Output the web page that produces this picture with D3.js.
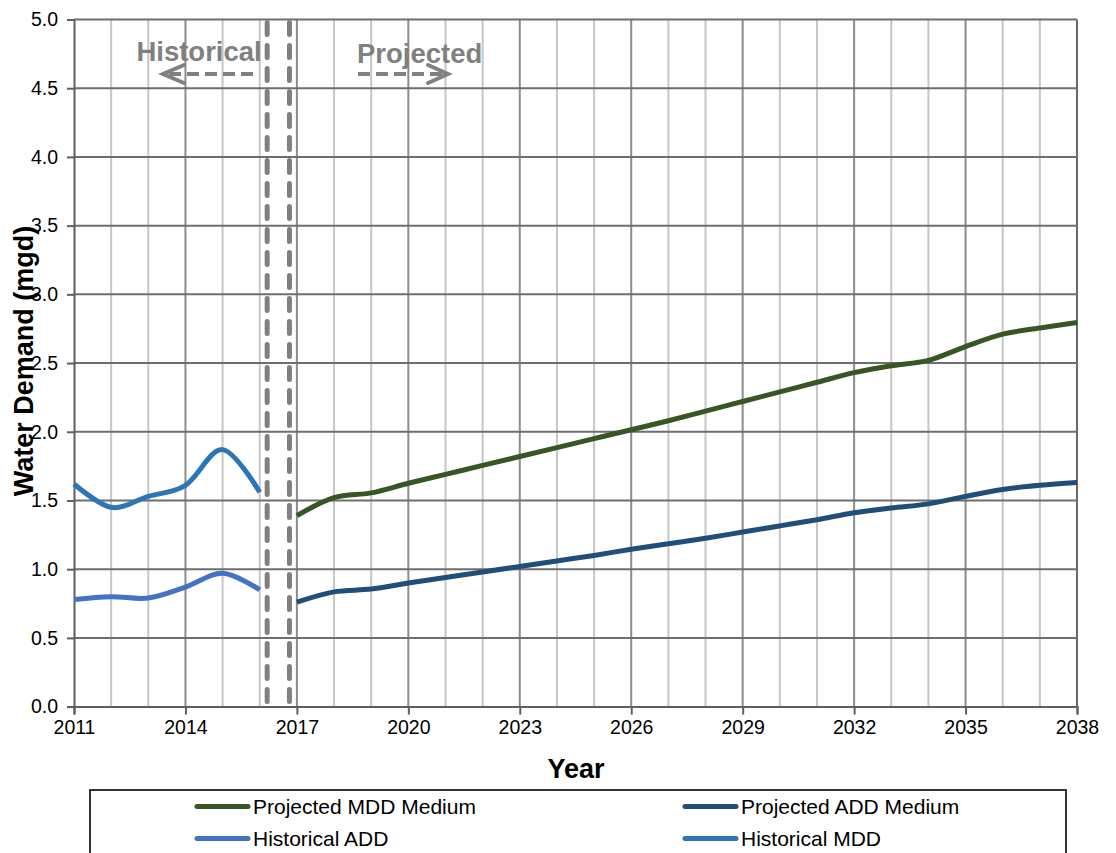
<!DOCTYPE html>
<html>
<head>
<meta charset="utf-8">
<script src="https://cdn.jsdelivr.net/npm/d3@7"></script>
<style>
  html, body { margin: 0; padding: 0; background: #fff; }
  svg { display: block; font-family: Arial, "Liberation Sans", sans-serif; }
</style>
</head>
<body>
<svg id="chart" width="1116" height="853"></svg>
<script>
// Water demand history and projection (mgd)
const histYears = [2011, 2012, 2013, 2014, 2015, 2016];
const histADD = [0.78, 0.80, 0.79, 0.87, 0.97, 0.85];
const histMDD = [1.62, 1.45, 1.53, 1.61, 1.87, 1.56];

const projYears = [2017, 2018, 2019, 2020, 2021, 2022, 2023, 2024, 2025, 2026, 2027,
                   2028, 2029, 2030, 2031, 2032, 2033, 2034, 2035, 2036, 2037, 2038];
const projMDD = [1.39, 1.52, 1.555, 1.625, 1.69, 1.755, 1.82, 1.885, 1.95, 2.015, 2.08,
                 2.15, 2.22, 2.29, 2.36, 2.43, 2.48, 2.52, 2.62, 2.71, 2.755, 2.795];
const projADD = [0.76, 0.835, 0.855, 0.90, 0.94, 0.98, 1.02, 1.06, 1.10, 1.145, 1.185,
                 1.225, 1.27, 1.315, 1.36, 1.41, 1.445, 1.475, 1.53, 1.58, 1.61, 1.63];

const xTicks = [2011, 2014, 2017, 2020, 2023, 2026, 2029, 2032, 2035, 2038];
const yTicks = [0, 0.5, 1, 1.5, 2, 2.5, 3, 3.5, 4, 4.5, 5];
const boundaryYears = [2016.2, 2016.8];   // dashed divider between history and projection

const seriesNames = ["Projected MDD Medium", "Projected ADD Medium", "Historical ADD", "Historical MDD"];
const seriesColors = ["#375623", "#1f4e79", "#4472c4", "#2e75b6"];

const svg = d3.select("#chart");
const x = d3.scaleLinear().domain([2011, 2038]).range([74, 1077]);
const y = d3.scaleLinear().domain([0, 5]).range([706.6, 19.5]);

// vertical grid: every year, darker at labelled years
const allYears = d3.range(2011, 2039);
svg.append("g").selectAll("line").data(allYears.filter(v => v > 2011)).join("line")
  .attr("x1", d => x(d)).attr("x2", d => x(d))
  .attr("y1", y(0)).attr("y2", y(5))
  .attr("stroke", d => ((d - 2011) % 3 === 0) ? (d === 2038 ? "#6a6a6a" : "#8c8c8c") : "#c6c6c6")
  .attr("stroke-width", 2);

// horizontal grid
svg.append("g").selectAll("line").data(yTicks.filter(v => v > 0)).join("line")
  .attr("x1", x(2011)).attr("x2", x(2038))
  .attr("y1", d => y(d)).attr("y2", d => y(d))
  .attr("stroke", "#6e6e6e").attr("stroke-width", 2);

// axes
const yAxis = d3.axisLeft(y).tickValues(yTicks).tickFormat(d3.format(".1f")).tickSize(7).tickPadding(9);
const gy = svg.append("g").attr("transform", `translate(${x(2011)},0)`).call(yAxis);
const xAxis = d3.axisBottom(x).tickValues(xTicks).tickFormat(d3.format("d")).tickSize(8).tickPadding(6);
const gx = svg.append("g").attr("transform", `translate(0,${y(0)})`).call(xAxis);
[gx, gy].forEach(g => {
  g.select(".domain").attr("stroke", "#5f5f5f").attr("stroke-width", 2);
  g.selectAll(".tick line").attr("stroke", "#5f5f5f").attr("stroke-width", 2);
  g.selectAll(".tick text").attr("fill", "#000").style("font-size", "19.5px")
    .style("font-family", "Arial, 'Liberation Sans', sans-serif");
});

// dashed divider lines
svg.append("g").selectAll("line").data(boundaryYears).join("line")
  .attr("x1", d => x(d)).attr("x2", d => x(d))
  .attr("y1", y(5) + 3).attr("y2", y(0) - 2)
  .attr("stroke", "#808080").attr("stroke-width", 5)
  .attr("stroke-linecap", "round").attr("stroke-dasharray", "12,11");

// series lines
const line = d3.line().x(d => x(d[0])).y(d => y(d[1])).curve(d3.curveCatmullRom.alpha(0));
const series = [
  { name: seriesNames[0], color: seriesColors[0], pts: d3.zip(projYears, projMDD) },
  { name: seriesNames[1], color: seriesColors[1], pts: d3.zip(projYears, projADD) },
  { name: seriesNames[2], color: seriesColors[2], pts: d3.zip(histYears, histADD) },
  { name: seriesNames[3], color: seriesColors[3], pts: d3.zip(histYears, histMDD) }
];
svg.append("g").selectAll("path").data(series).join("path")
  .attr("d", d => line(d.pts))
  .attr("fill", "none").attr("stroke", d => d.color)
  .attr("stroke-width", 5).attr("stroke-linejoin", "round");

// period annotations
const ann = svg.append("g").attr("fill", "#808080").attr("stroke", "#808080");
const arrowY = 74;
ann.append("text").attr("x", x(2016) + 2).attr("y", 61).attr("text-anchor", "end")
  .attr("stroke", "none").style("font-weight", "bold").style("font-size", "27.5px").text("Historical");
ann.append("line").attr("x1", 253).attr("x2", 168).attr("y1", arrowY).attr("y2", arrowY)
  .attr("stroke-width", 4).attr("stroke-dasharray", "12,6");
ann.append("path").attr("d", `M184,${arrowY - 9}L163,${arrowY}L184,${arrowY + 9}`)
  .attr("fill", "none").attr("stroke-width", 4).attr("stroke-linecap", "round");
ann.append("text").attr("x", 357).attr("y", 63).attr("text-anchor", "start")
  .attr("stroke", "none").style("font-weight", "bold").style("font-size", "27.5px").text("Projected");
ann.append("line").attr("x1", 358).attr("x2", 444).attr("y1", arrowY).attr("y2", arrowY)
  .attr("stroke-width", 4).attr("stroke-dasharray", "12,6");
ann.append("path").attr("d", `M428,${arrowY - 9}L448,${arrowY}L428,${arrowY + 9}`)
  .attr("fill", "none").attr("stroke-width", 4).attr("stroke-linecap", "round");

// axis titles
svg.append("text").attr("x", 576).attr("y", 778).attr("text-anchor", "middle")
  .style("font-weight", "bold").style("font-size", "27px").text("Year");
svg.append("text").attr("transform", "translate(33,361) rotate(-90)").attr("text-anchor", "middle")
  .style("font-weight", "bold").style("font-size", "27px").text("Water Demand (mgd)");

// legend
const lg = svg.append("g");
lg.append("rect").attr("x", 90).attr("y", 790).attr("width", 976).attr("height", 90)
  .attr("fill", "#fff").attr("stroke", "#000").attr("stroke-width", 1.6);
const legendPos = [[195, 806.5], [683, 806.5], [195, 838.5], [683, 838.5]];
const items = lg.selectAll("g.item").data(series).join("g").attr("class", "item")
  .attr("transform", (d, i) => `translate(${legendPos[i][0]},${legendPos[i][1]})`);
items.append("line").attr("x1", 2).attr("x2", 53).attr("y1", 0).attr("y2", 0)
  .attr("stroke", d => d.color).attr("stroke-width", 5).attr("stroke-linecap", "round");
items.append("text").attr("x", 58).attr("y", 7.5).style("font-size", "21px").text(d => d.name);
</script>
</body>
</html>
